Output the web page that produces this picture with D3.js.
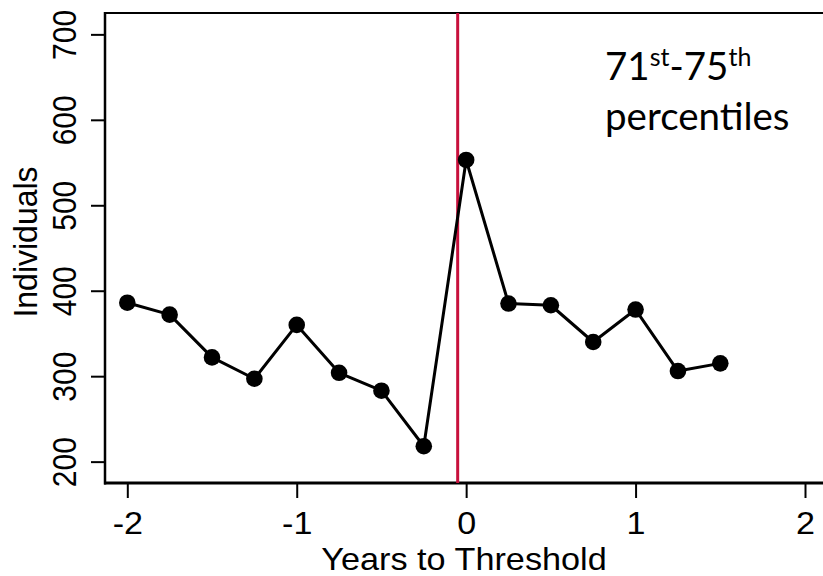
<!DOCTYPE html>
<html>
<head>
<meta charset="utf-8">
<script src="https://cdn.jsdelivr.net/npm/d3@7"></script>
<style>
  html, body { margin: 0; padding: 0; background: #fff; }
  svg { display: block; }
  .tick text { font-family: "Liberation Sans", Arial, sans-serif; fill: #000; }
  .tick line { stroke: #000; stroke-width: 2px; }
</style>
</head>
<body>
<svg id="chart" width="823" height="576"></svg>
<script>
// Years relative to the threshold and the number of individuals in each bin
const years = [-2, -1.75, -1.5, -1.25, -1, -0.75, -0.5, -0.25, 0, 0.25, 0.5, 0.75, 1, 1.25, 1.5];
const individuals = [386, 372, 322, 297, 360, 304, 283, 218, 553, 385, 383, 340, 378, 306, 315];
const xTicks = [-2, -1, 0, 1, 2];
const yTicks = [200, 300, 400, 500, 600, 700];
const thresholdLine = -0.05;

const svg = d3.select("#chart");
const frame = { left: 105, right: 823, top: 13, bottom: 483 };
const widen = 1.1; // text glyphs are drawn slightly wide

const x = d3.scaleLinear().domain([-2, 2]).range([127.3, 805]);
const y = d3.scaleLinear().domain([175, 725]).range([frame.bottom, frame.top]);

// x axis
const xAxis = svg.append("g")
  .attr("transform", `translate(0,${frame.bottom})`)
  .call(d3.axisBottom(x).tickValues(xTicks).tickSize(15).tickSizeOuter(0)
    .tickFormat(d => d < 0 ? "-" + Math.abs(d) : String(d)));
xAxis.select(".domain").remove();
xAxis.selectAll(".tick text")
  .style("font-size", "31px")
  .attr("y", 51)
  .attr("dy", 0)
  .attr("transform", `scale(${widen},1)`);

// y axis with rotated labels
const yAxis = svg.append("g")
  .attr("transform", `translate(${frame.left},0)`)
  .call(d3.axisLeft(y).tickValues(yTicks).tickSize(14).tickSizeOuter(0));
yAxis.select(".domain").remove();
yAxis.selectAll(".tick text")
  .style("font-size", "30px")
  .attr("transform", `rotate(-90) scale(1,${widen})`)
  .attr("x", 0)
  .attr("y", -29 / widen)
  .attr("dy", 0)
  .attr("text-anchor", "middle");

// frame: left, bottom, top
svg.append("line").attr("x1", frame.left).attr("x2", frame.left)
  .attr("y1", frame.top - 1).attr("y2", frame.bottom + 1.5)
  .attr("stroke", "#000").attr("stroke-width", 2.5);
svg.append("line").attr("x1", frame.left - 1).attr("x2", frame.right)
  .attr("y1", frame.bottom).attr("y2", frame.bottom)
  .attr("stroke", "#000").attr("stroke-width", 3);
svg.append("line").attr("x1", frame.left).attr("x2", frame.right)
  .attr("y1", frame.top).attr("y2", frame.top)
  .attr("stroke", "#000").attr("stroke-width", 2);

// threshold marker
svg.append("line")
  .attr("x1", x(thresholdLine)).attr("x2", x(thresholdLine))
  .attr("y1", frame.top).attr("y2", frame.bottom)
  .attr("stroke", "#c8103c").attr("stroke-width", 3);

// series line and markers
const pts = years.map((yr, i) => [yr, individuals[i]]);
svg.append("path")
  .datum(pts)
  .attr("fill", "none")
  .attr("stroke", "#000")
  .attr("stroke-width", 3)
  .attr("stroke-linejoin", "round")
  .attr("d", d3.line().x(d => x(d[0])).y(d => y(d[1])));

svg.append("g").selectAll("circle")
  .data(pts)
  .join("circle")
  .attr("cx", d => x(d[0]))
  .attr("cy", d => y(d[1]))
  .attr("r", 8.3)
  .attr("fill", "#000");

// axis titles
svg.append("text")
  .attr("transform", "translate(464,570) scale(1.07,1)")
  .attr("text-anchor", "middle")
  .style("font-family", "'Liberation Sans', Arial, sans-serif")
  .style("font-size", "32px")
  .text("Years to Threshold");

svg.append("text")
  .attr("transform", "translate(37,242) rotate(-90) scale(1,1.06)")
  .attr("text-anchor", "middle")
  .style("font-family", "'Liberation Sans', Arial, sans-serif")
  .style("font-size", "32px")
  .text("Individuals");

// percentile band annotation
const note = svg.append("text")
  .attr("x", 605).attr("y", 80)
  .style("font-family", "Lato, 'Open Sans', sans-serif")
  .style("font-size", "38.5px")
  .attr("fill", "#000");
note.append("tspan").text("71");
note.append("tspan").attr("dy", -14).style("font-size", "25px").text("st");
note.append("tspan").attr("dy", 14).text("-75");
note.append("tspan").attr("dy", -14).style("font-size", "25px").text("th");

svg.append("text")
  .attr("x", 605).attr("y", 130)
  .style("font-family", "Lato, 'Open Sans', sans-serif")
  .style("font-size", "38.5px")
  .attr("fill", "#000")
  .text("percentiles");
</script>
</body>
</html>
